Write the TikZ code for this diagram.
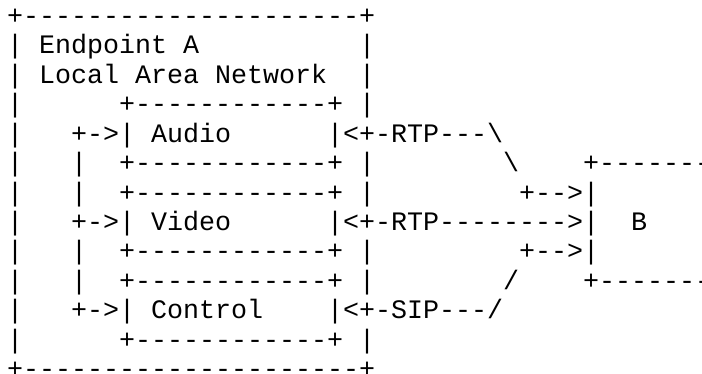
\documentclass[tikz,border=0pt]{standalone}
\usepackage{fontspec}
\setmonofont{Liberation Mono}
\usetikzlibrary{positioning}
\def\colLeft{7}
\def\rowTop{349.6}
\def\rowStep{29.45}

\begin{document}
\begin{tikzpicture}[
    x=1pt, y=1pt,
    ascii/.style={anchor=base west, inner sep=0pt, outer sep=0pt,
                  font={\ttfamily\fontsize{26.67}{29.3}\selectfont}},
]
\clip (0,0) rectangle (702,374);

% =====================================================
% Endpoint A frame with its three boxes
% =====================================================
\node[ascii] (frameTop)  at (\colLeft, {\rowTop-0*\rowStep})  {+---------------------+};
\node[ascii] (endpoint)  at (\colLeft, {\rowTop-1*\rowStep})  {|~Endpoint~A~~~~~~~~~~|};
\node[ascii] (lan)       at (\colLeft, {\rowTop-2*\rowStep})  {|~Local~Area~Network~~|};
\node[ascii] (audioTop)  at (\colLeft, {\rowTop-3*\rowStep})  {|~~~~~~+------------+~|};
\node[ascii] (audio)     at (\colLeft, {\rowTop-4*\rowStep})  {|~~~+->|~Audio~~~~~~|<+-RTP---\textbackslash{}};
\node[ascii] (audioBot)  at (\colLeft, {\rowTop-5*\rowStep})  {|~~~|~~+------------+~|~~~~~~~~\textbackslash{}~~~~+-------};
\node[ascii] (videoTop)  at (\colLeft, {\rowTop-6*\rowStep})  {|~~~|~~+------------+~|~~~~~~~~~+-->|};
\node[ascii] (video)     at (\colLeft, {\rowTop-7*\rowStep})  {|~~~+->|~Video~~~~~~|<+-RTP-------->|~~B};
\node[ascii] (videoBot)  at (\colLeft, {\rowTop-8*\rowStep})  {|~~~|~~+------------+~|~~~~~~~~~+-->|};
\node[ascii] (ctrlTop)   at (\colLeft, {\rowTop-9*\rowStep})  {|~~~|~~+------------+~|~~~~~~~~/~~~~+-------};
\node[ascii] (control)   at (\colLeft, {\rowTop-10*\rowStep}) {|~~~+->|~Control~~~~|<+-SIP---/};
\node[ascii] (ctrlBot)   at (\colLeft, {\rowTop-11*\rowStep}) {|~~~~~~+------------+~|};
\node[ascii] (frameBot)  at (\colLeft, {\rowTop-12*\rowStep}) {+---------------------+};

\end{tikzpicture}
\end{document}
